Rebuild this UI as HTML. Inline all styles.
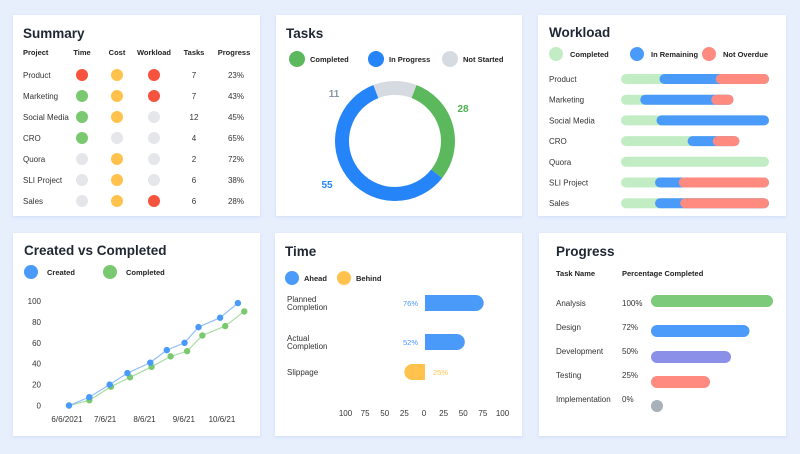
<!DOCTYPE html>
<html><head><meta charset="utf-8"><style>
html,body{margin:0;padding:0;background:#e7effd;}
svg{display:block;font-family:"Liberation Sans",sans-serif;}
.t{font-size:13.5px;fill:#1f2733;font-weight:600}
.s{font-size:8px;fill:#333}
.h{font-size:7.5px;fill:#222;font-weight:bold}
</style></head><body>
<svg id="root" width="800" height="454" viewBox="0 0 800 454">
<defs><filter id="sh" x="-5%" y="-5%" width="110%" height="110%"><feDropShadow dx="0" dy="1" stdDeviation="1.5" flood-color="#9fb6e6" flood-opacity="0.35"/></filter></defs>
<rect width="800" height="454" fill="#e7effd"/>
<g filter="url(#sh)">
<rect x="13" y="15" width="247" height="201" fill="#fff"/>
<rect x="276" y="15" width="246" height="201" fill="#fff"/>
<rect x="538" y="15" width="248" height="201" fill="#fff"/>
<rect x="13" y="233" width="247" height="203" fill="#fff"/>
<rect x="275" y="233" width="247" height="203" fill="#fff"/>
<rect x="539" y="233" width="247" height="203" fill="#fff"/>
</g>
<text class="t" x="23" y="38">Summary</text>
<text class="t" x="286" y="38">Tasks</text>
<text class="t" x="549" y="37">Workload</text>
<text class="t" x="24" y="255">Created vs Completed</text>
<text class="t" x="285" y="256">Time</text>
<text class="t" x="556" y="256">Progress</text>
<g id="g"></g>
</svg>
<script>
// ---- data ----
const sumProjects=["Product","Marketing","Social Media","CRO","Quora","SLI Project","Sales"];
const sumTime=["r","g","g","g","n","n","n"];
const sumCost=["y","y","y","n","y","y","y"];
const sumWork=["r","r","n","n","n","n","r"];
const sumTasks=[7,7,12,4,2,6,6];
const sumProgress=["23%","43%","45%","65%","72%","38%","28%"];

const taskLabels=["Completed","In Progress","Not Started"];
const taskValues=[28,55,11];

const wlProjects=["Product","Marketing","Social Media","CRO","Quora","SLI Project","Sales"];
const wlCompleted=[26,13,24,45,100,23,23];
const wlRemaining=[38,48,76,17,0,16,17];
const wlOverdue=[36,15,0,18,0,61,60];

const cvcTicksY=[0,20,40,60,80,100];
const cvcTickLabelsX=["6/6/2021","7/6/21","8/6/21","9/6/21","10/6/21"];
const cvcTickDaysX=[0,30,61,92,122];
const createdDays=[0,16,32,46,64,77,91,102,119,133];
const createdVals=[0,8,20,31,41,53,60,75,84,98];
const completedDays=[0,16,33,48,65,80,93,105,123,138];
const completedVals=[0,5,18,27,37,47,52,67,76,90];

const timeCats=["Planned|Completion","Actual|Completion","Slippage"];
const timeVals=[76,52,-25];
const timeTicks=[-100,-75,-50,-25,0,25,50,75,100];

const progTasks=["Analysis","Design","Development","Testing","Implementation"];
const progVals=[100,72,50,25,0];

// ---- helpers ----
const NS="http://www.w3.org/2000/svg", G=document.getElementById('g');
function mk(tag,a,txt){const e=document.createElementNS(NS,tag);for(const k in a)e.setAttribute(k,a[k]);if(txt!=null)e.textContent=txt;G.appendChild(e);return e;}
const C={r:"#f5533d",g:"#7ac970",y:"#ffc34d",n:"#e4e6ea"};

// ---- summary ----
const hdr=[["Project",23,"start"],["Time",82,"middle"],["Cost",117,"middle"],["Workload",154,"middle"],["Tasks",194,"middle"],["Progress",234,"middle"]];
hdr.forEach(h=>{const e=mk('text',{class:'h',x:h[1],y:55,'text-anchor':h[2]},h[0]);

});
sumProjects.forEach((p,i)=>{const y=75+i*21;
let e=mk('text',{class:'s',x:23,y:y+3},p);
[[sumTime,82],[sumCost,117],[sumWork,154]].forEach(c=>{const d=mk('circle',{cx:c[1],cy:y,r:6,fill:C[c[0][i]]});
});
e=mk('text',{class:'s',x:194,y:y+3,'text-anchor':'middle'},sumTasks[i]);
e=mk('text',{class:'s',x:244,y:y+3,'text-anchor':'end'},sumProgress[i]);});

// ---- tasks donut ----
const tCol=["#5cb85c","#2584f8","#d5dbe1"], tTxt=["#4caf50","#2584f8","#8a96a6"];
[[297,"Completed"],[376,"In Progress"],[450,"Not Started"]].forEach((l,i)=>{
let d=mk('circle',{cx:l[0],cy:59,r:8,fill:tCol[i]});
let t=mk('text',{class:'h',x:l[0]+13,y:62},taskLabels[i]);});
const cx=395,cy=141,R=53,tot=taskValues.reduce((a,b)=>a+b,0);let ang=21;
const labelPos=[[463,112],[327,188],[334,97]];
taskValues.forEach((v,i)=>{const a0=ang,a1=ang+v/tot*360;ang=a1;
const p=a=>[cx+R*Math.sin(a*Math.PI/180),cy-R*Math.cos(a*Math.PI/180)];
const s=p(a0),e=p(a1),lg=(a1-a0)>180?1:0;
const path=mk('path',{d:`M${s[0]},${s[1]} A${R},${R} 0 ${lg} 1 ${e[0]},${e[1]}`,fill:'none',stroke:tCol[i],'stroke-width':14});

const t=mk('text',{x:labelPos[i][0],y:labelPos[i][1],'font-size':10,'font-weight':'bold',fill:tTxt[i],'text-anchor':'middle'},v);
});

// ---- workload ----
const wCol=["#c2edc4","#4a9afa","#ff8a80"];
[[556,"Completed"],[637,"In Remaining"],[709,"Not Overdue"]].forEach((l,i)=>{
let d=mk('circle',{cx:l[0],cy:54,r:7,fill:wCol[i]});
let t=mk('text',{class:'h',x:l[0]+14,y:57},l[1]);});
const wx=v=>621+v*1.48;
wlProjects.forEach((p,i)=>{const y=79+i*20.7;
let t=mk('text',{class:'s',x:549,y:y+3},p);
const segs=[wlCompleted[i],wlRemaining[i],wlOverdue[i]],total=segs[0]+segs[1]+segs[2];let start=0;
segs.forEach((v,k)=>{if(v>0){const r=mk('rect',{x:wx(start),y:y-5,width:wx(total)-wx(start),height:10,rx:5,fill:wCol[k]});
}start+=v;});});

// ---- created vs completed ----
const lx=d=>69+d*1.27, ly=v=>405.5-v*1.045;
let e;
[[31,"Created","#4a9afa"],[110,"Completed","#7ac970"]].forEach(l=>{
e=mk('circle',{cx:l[0],cy:272,r:7,fill:l[2]});
e=mk('text',{class:'h',x:l[0]+16,y:275},l[1]);});
cvcTicksY.forEach(v=>{e=mk('text',{class:'s',x:41,y:ly(v)+3,'text-anchor':'end'},v);});
cvcTickLabelsX.forEach((l,i)=>{e=mk('text',{class:'s',x:lx(cvcTickDaysX[i])-2,y:422,'text-anchor':'middle'},l);});
[[completedDays,completedVals,"#7ac970","#a8dca3","cvc-completed"],[createdDays,createdVals,"#4a9afa","#8fbdfb","cvc-created"]].forEach(s=>{
e=mk('polyline',{points:s[0].map((d,i)=>lx(d)+','+ly(s[1][i])).join(' '),fill:'none',stroke:s[3],'stroke-width':1.2});

s[0].forEach((d,i)=>{e=mk('circle',{cx:lx(d),cy:ly(s[1][i]),r:3.2,fill:s[2]});});});

// ---- time ----
const tx=v=>424+v*0.785;
[[292,"Ahead","#4a9afa"],[344,"Behind","#ffc34d"]].forEach(l=>{
e=mk('circle',{cx:l[0],cy:278,r:7,fill:l[2]});
e=mk('text',{class:'h',x:l[0]+12,y:281},l[1]);});
const tY=[303,342,372];
timeCats.forEach((c,i)=>{const y=tY[i],v=timeVals[i],lines=c.split('|');
lines.forEach((ln,k)=>{e=mk('text',{class:'s',x:287,y:y+(lines.length>1?-1+k*8:3)},ln);});
const col=v>=0?"#4a9afa":"#ffc34d",x0=tx(0)+1,x1=tx(v);
e=mk('path',{d:v>=0?`M${x0},${y-8} H${x1-8} A8,8 0 0 1 ${x1-8},${y+8} H${x0} Z`:`M${x0},${y-8} H${x1+8} A8,8 0 0 0 ${x1+8},${y+8} H${x0} Z`,fill:col});

e=mk('text',{x:v>=0?418:433,y:y+3,'font-size':7.5,fill:col,'text-anchor':v>=0?'end':'start'},Math.abs(v)+'%');
});
timeTicks.forEach(t=>{e=mk('text',{class:'s',x:tx(t),y:416,'text-anchor':'middle'},Math.abs(t));});

// ---- progress ----
const pCol=["#7dcb7a","#4c9bfb","#8c8fe8","#ff8a80","#a8b0ba"];
e=mk('text',{class:'h',x:556,y:276},"Task Name");
e=mk('text',{class:'h',x:622,y:276},"Percentage Completed");
const pLY=[303,327,351,375,399],pBY=[301,331,357,382,406];
progTasks.forEach((p,i)=>{
e=mk('text',{class:'s',x:556,y:pLY[i]+3},p);
e=mk('text',{class:'s',x:622,y:pLY[i]+3},progVals[i]+'%');
const w=progVals[i]>0?38+progVals[i]*0.84:12;
e=mk('rect',{x:651,y:pBY[i]-6,width:w,height:12,rx:6,fill:pCol[i]});});
</script>
</body></html>
